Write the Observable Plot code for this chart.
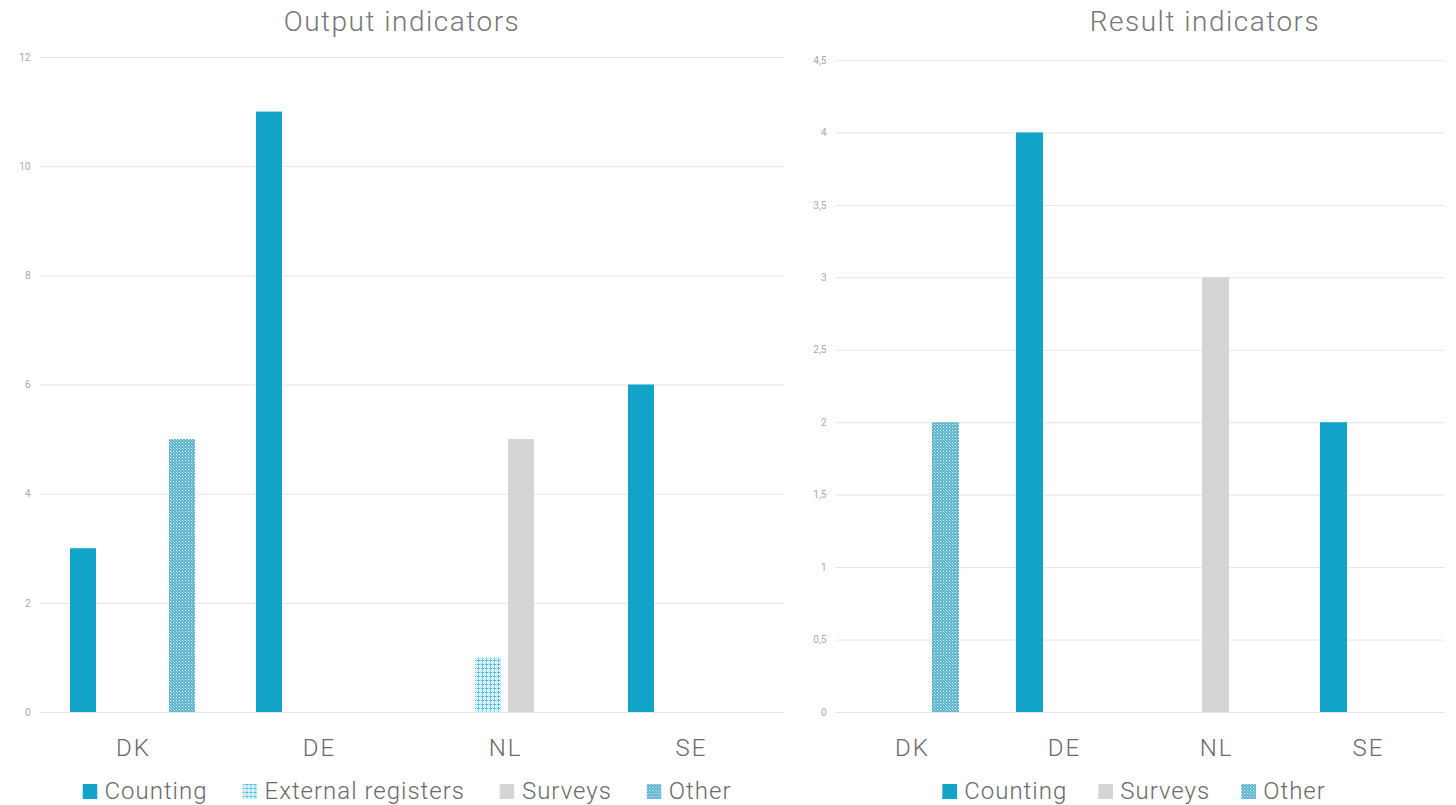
<!DOCTYPE html>
<html>
<head>
<meta charset="utf-8">
<script src="https://cdn.jsdelivr.net/npm/d3@7"></script>
<script src="https://cdn.jsdelivr.net/npm/@observablehq/plot@0.6"></script>
<style>
  html, body { margin: 0; padding: 0; background: #fff; }
  body { width: 1456px; height: 805px; position: relative; overflow: hidden; font-family: Roboto, "Liberation Sans", sans-serif; }
  .title { position: absolute; top: 5px; transform: translateX(-50%); font-size: 28px; letter-spacing: 1.5px; font-weight: 300; color: #767676; white-space: nowrap; }
  .chart { position: absolute; top: 40px; }
  .chart svg { overflow: visible; }
  .chart [aria-label^="y-axis"] text { font-size: 10px; fill: #a8a8a8; font-family: Roboto, sans-serif; }
  .chart [aria-label^="fx-axis"] text { font-size: 24px; letter-spacing: 2px; fill: #6a6a6a; font-weight: 300; font-family: Roboto, sans-serif; }
  .legend { position: absolute; top: 777px; transform: translateX(-50%); display: flex; font-size: 24px; letter-spacing: 1px; font-weight: 300; color: #6a6a6a; white-space: nowrap; }
  .legend .item { display: flex; align-items: center; gap: 7px; }
  .legend svg { width: 15px; height: 15px; display: block; }
</style>
</head>
<body>
<svg width="0" height="0" style="position:absolute">
  <defs>
    <pattern id="pat-ext" patternUnits="userSpaceOnUse" width="4" height="4">
      <rect width="4" height="4" fill="#ffffff"></rect>
      <rect x="0" y="0" width="4" height="1" fill="#4fbfe0"></rect>
      <rect x="0" y="0" width="1" height="4" fill="#4fbfe0"></rect>
      <rect x="2" y="0" width="1" height="4" fill="#c9ecf6"></rect>
      <rect x="0" y="2" width="4" height="1" fill="#c9ecf6"></rect>
    </pattern>
    <pattern id="pat-other" patternUnits="userSpaceOnUse" width="3" height="3">
      <rect width="3" height="3" fill="#5ab4cd"></rect>
      <rect x="0" y="0" width="1" height="1" fill="#e4f4f8"></rect>
      <rect x="1" y="1" width="1" height="1" fill="#9fd3e2"></rect>
      <rect x="2" y="2" width="1" height="1" fill="#7cc4d8"></rect>
    </pattern>
  </defs>
</svg>

<div class="title" style="left:402px">Output indicators</div>
<div class="title" style="left:1205px">Result indicators</div>
<div id="left" class="chart" style="left:0px"></div>
<div id="right" class="chart" style="left:790px"></div>
<div id="legend-left" class="legend" style="left:407px; gap:35px"></div>
<div id="legend-right" class="legend" style="left:1134px; gap:31px"></div>

<script>
// ---- Data ----
const countries = ["DK", "DE", "NL", "SE"];

const outputSeries = ["Counting", "External registers", "Surveys", "Other"];
const outputCounting = [3, 11, 0, 6];
const outputExternal = [0, 0, 1, 0];
const outputSurveys = [0, 0, 5, 0];
const outputOther = [5, 0, 0, 0];
const outputTicks = [0, 2, 4, 6, 8, 10, 12];

const resultSeries = ["Counting", "Surveys", "Other"];
const resultCounting = [0, 4, 0, 2];
const resultSurveys = [0, 0, 3, 0];
const resultOther = [2, 0, 0, 0];
const resultTicks = [0, 0.5, 1, 1.5, 2, 2.5, 3, 3.5, 4, 4.5];

const seriesFill = {
  "Counting": "#12a3c9",
  "External registers": "url(#pat-ext)",
  "Surveys": "#d5d5d5",
  "Other": "url(#pat-other)"
};

function rows(series, arrays) {
  const out = [];
  countries.forEach((c, i) => {
    series.forEach((s, j) => out.push({country: c, series: s, value: arrays[j][i]}));
  });
  return out;
}

const outputRows = rows(outputSeries, [outputCounting, outputExternal, outputSurveys, outputOther]);
const resultRows = rows(resultSeries, [resultCounting, resultSurveys, resultOther]);

function chart(data, series, ticks, yMax, opts, fmt) {
  return Plot.plot({
    width: opts.width,
    height: 730,
    marginTop: opts.marginTop,
    marginBottom: 58,
    marginLeft: opts.marginLeft,
    marginRight: opts.marginRight,
    style: {fontFamily: "Roboto, sans-serif", color: "#6a6a6a", background: "transparent"},
    fx: {domain: countries, padding: 0, label: null, tickSize: 0, tickPadding: 26, axis: "bottom"},
    x: {domain: series, axis: null, paddingInner: 0.2, paddingOuter: opts.outer},
    y: {domain: [0, yMax], ticks: ticks, tickSize: 0, tickPadding: 10, label: null, tickFormat: fmt},
    color: {domain: series, range: series.map(s => seriesFill[s])},
    marks: [
      Plot.ruleY(ticks, {y: d => d, stroke: "#e4e4e4", strokeWidth: 1}),
      Plot.barY(data, {fx: "country", x: "series", y: "value", fill: "series"})
    ]
  });
}

const fmtComma = d => String(d).replace(".", ",");

document.getElementById("left").appendChild(
  chart(outputRows, outputSeries, outputTicks, 12,
    {width: 790, marginTop: 17, marginLeft: 38, marginRight: 5, outer: 0.846}, d => String(d))
);
document.getElementById("right").appendChild(
  chart(resultRows, resultSeries, resultTicks, 4.5,
    {width: 666, marginTop: 20, marginLeft: 46, marginRight: 12, outer: 0.835}, fmtComma)
);

function legend(el, series) {
  const root = document.getElementById(el);
  series.forEach(s => {
    const item = document.createElement("div");
    item.className = "item";
    item.innerHTML = `<svg viewBox="0 0 15 15"><rect width="15" height="15" fill="${seriesFill[s]}"></rect></svg><span>${s}</span>`;
    root.appendChild(item);
  });
}
legend("legend-left", outputSeries);
legend("legend-right", resultSeries);
</script>
</body>
</html>
